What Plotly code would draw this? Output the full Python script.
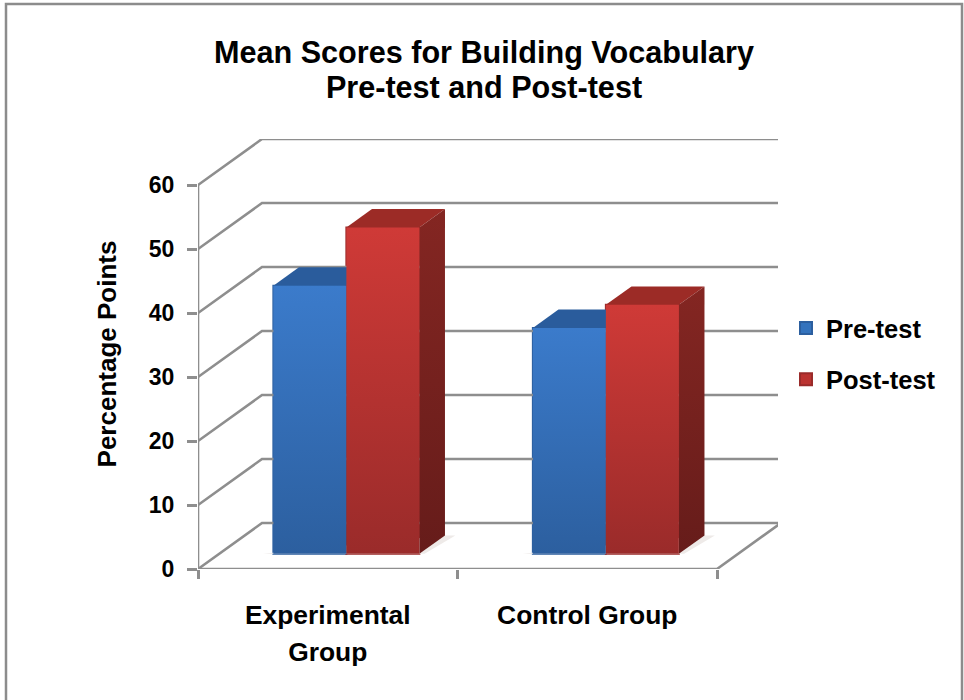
import plotly.graph_objects as go

categories = ["Experimental<br>Group", "Control Group"]
series_names = ["Pre-test", "Post-test"]
pre_test = [41.9, 35.3]
post_test = [51.0, 38.9]
y_ticks = [0, 10, 20, 30, 40, 50, 60]

W, H = 964, 700
L, R, T, B = 198, 778, 139, 569
CAT_PX = 259.5
VAL_PX = 6.4
DX = 64 / CAT_PX
DY = 46 / VAL_PX
FRONT, BACK = 0.33, 0.73
BAR_W = 73 / CAT_PX
SHIFT = -2.5 / CAT_PX
GRID = "#8e8e8e"
FONT = "Liberation Sans"


def proj(x, depth, v):
    return x + depth * DX, v + depth * DY


def poly(points, fill, grad=None):
    xs, ys = zip(*points)
    kw = dict(fillgradient=dict(type="vertical", colorscale=[[0, grad[1]], [1, grad[0]]])) if grad else dict(fillcolor=fill)
    return go.Scatter(x=list(xs) + [xs[0]], y=list(ys) + [ys[0]], mode="lines", line=dict(width=0),
                      fill="toself", hoverinfo="skip", showlegend=False, **kw)


fig = go.Figure()

colors = ["#3473bd", "#bb3330"]
edges = ["#2c5f9f", "#9a2b2a"]
base_val = FRONT * DY
for i, (name, vals) in enumerate(zip(series_names, [pre_test, post_test])):
    fig.add_trace(go.Bar(
        x=[0.5 + SHIFT + FRONT * DX, 1.5 + SHIFT + FRONT * DX], y=vals, base=[base_val, base_val], name=f"<b>{name}</b>",
        offsetgroup=str(i), legendgroup=name, marker=dict(color=colors[i], line=dict(width=2, color=edges[i])),
        width=BAR_W, offset=(-BAR_W if i == 0 else 0),
    ))

for v in y_ticks:
    a, b, c = proj(0, 0, v), proj(0, 1, v), proj(2, 1, v)
    fig.add_trace(go.Scatter(x=[a[0], b[0], c[0]], y=[a[1], b[1], c[1]], mode="lines",
                             line=dict(color=GRID, width=2.6), hoverinfo="skip", showlegend=False))
a, b, c = proj(0, 0, 60), proj(0, 0, 0), proj(2, 0, 0)
d = proj(2, 1, 0)
fig.add_trace(go.Scatter(x=[a[0], b[0], c[0], d[0]], y=[a[1], b[1], c[1], d[1]], mode="lines",
                         line=dict(color=GRID, width=2.6), hoverinfo="skip", showlegend=False))

face = {
    0: dict(top="#2a5c9c", front=("#3b7bcb", "#2c5f9f")),
    1: dict(top="#9c2b26", front=("#cf3a37", "#9a2b2a")),
}
side_grad = {0: ("#2a5c9c", "#1f4a80"), 1: ("#842622", "#661c1a")}
for g in range(2):
    left = g + 0.5 + SHIFT - BAR_W
    right = g + 0.5 + SHIFT + BAR_W
    fig.add_trace(poly([proj(left - 0.04, FRONT, 0), proj(right + 0.02, FRONT, 0),
                        proj(right + 0.04, BACK, 0), proj(right, BACK, 0)], "#eeeae8"))
for g in range(2):
    for i, vals in enumerate([pre_test, post_test]):
        x0 = g + 0.5 + SHIFT + (i - 1) * BAR_W
        x1 = x0 + BAR_W
        v = vals[g]
        fig.add_trace(poly([proj(x0, FRONT, v), proj(x1, FRONT, v), proj(x1, BACK, v), proj(x0, BACK, v)], face[i]["top"]))
        fig.add_trace(poly([proj(x1, FRONT, 0), proj(x1, BACK, 0), proj(x1, BACK, v), proj(x1, FRONT, v)], None, grad=side_grad[i]))
        fig.add_trace(poly([proj(x0, FRONT, 0), proj(x1, FRONT, 0), proj(x1, FRONT, v), proj(x0, FRONT, v)], None, grad=face[i]["front"]))


def sized(text, px):
    return f"<span style='font-size:{px}px'><b>{text}</b></span>"


title_lines = ["Mean Scores for Building Vocabulary", "Pre-test and Post-test"]
fig.update_layout(
    width=W, height=H, autosize=False, paper_bgcolor="white", plot_bgcolor="white",
    margin=dict(l=L, r=W - R, t=T, b=H - B, autoexpand=False),
    barmode="overlay",
    font=dict(family=FONT, color="black"),
    title=dict(text="<br>".join(sized(t, 30.6) for t in title_lines),
               x=484 / W, xanchor="center", y=1 - 63 / H, yanchor="top",
               font=dict(family=FONT, size=27, color="black")),
    xaxis=dict(range=[0, (R - L) / CAT_PX], tickvals=[0.5, 1.5],
               ticktext=["<br>".join(sized(p, 26.4) for p in c.split("<br>")) for c in categories],
               ticks="", showgrid=False, zeroline=False, showline=False,
               ticklabelstandoff=25, tickfont=dict(family=FONT, size=28.5, color="black"),
               minor=dict(tickvals=[0, 1, 2], ticks="outside", ticklen=9, tickwidth=2.5, tickcolor=GRID, showgrid=False)),
    yaxis=dict(range=[0, (B - T) / VAL_PX], tickvals=y_ticks, ticktext=[f"<b>{t}</b>" for t in y_ticks],
               ticks="outside", ticklen=10, tickwidth=2.5, tickcolor=GRID, showgrid=False, zeroline=False, showline=False,
               tickfont=dict(family=FONT, size=23, color="black"), ticklabelstandoff=8,
               title=dict(text="<b>Percentage Points</b>", font=dict(family=FONT, size=26, color="black"), standoff=24)),
    legend=dict(x=(786 - L) / (R - L), xanchor="left", y=(B - 305) / (B - T), yanchor="top",
                tracegroupgap=15, font=dict(family=FONT, size=25.5, color="black"),
                bgcolor="rgba(0,0,0,0)", itemclick=False, itemdoubleclick=False),
    showlegend=True,
    shapes=[dict(type="rect", xref="paper", yref="paper",
                 x0=(6 - L) / (R - L), x1=(962 - L) / (R - L), y0=(B - 710) / (B - T), y1=(B - 4) / (B - T),
                 line=dict(color="#8c8c8c", width=2.5), fillcolor="rgba(0,0,0,0)", layer="below")],
)
fig.write_html("out.html", config={"displayModeBar": False}, post_script="document.body.style.margin='0';")
